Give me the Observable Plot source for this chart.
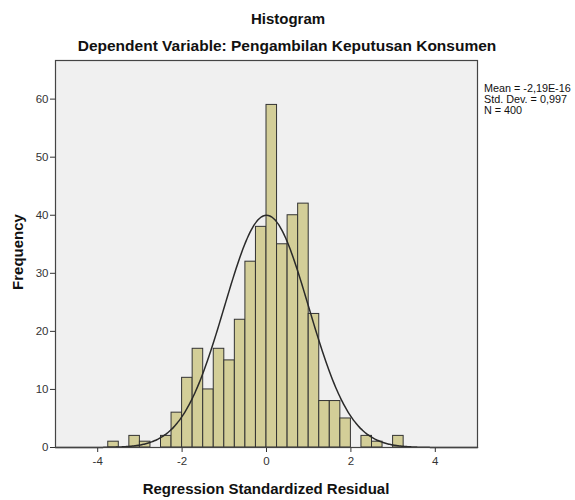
<!DOCTYPE html>
<html>
<head>
<meta charset="utf-8">
<script src="https://cdn.jsdelivr.net/npm/d3@7"></script>
<script src="https://cdn.jsdelivr.net/npm/@observablehq/plot@0.6"></script>
<style>
  html, body { margin: 0; padding: 0; background: #ffffff; }
  #chart svg { display: block; }
</style>
</head>
<body>
<div id="chart"></div>
<script>
// Bin left edges (bin width 0.25) and frequencies
const binStart = [-3.75, -3.5, -3.25, -3.0, -2.75, -2.5, -2.25, -2.0, -1.75, -1.5, -1.25, -1.0, -0.75, -0.5, -0.25, 0.0, 0.25, 0.5, 0.75, 1.0, 1.25, 1.5, 1.75, 2.0, 2.25, 2.5, 2.75, 3.0];
const counts   = [1, 0, 2, 1, 0, 2, 6, 12, 17, 10, 17, 15, 22, 32, 38, 59, 35, 40, 42, 23, 8, 8, 5, 0, 2, 1, 0, 2];
const binWidth = 0.25;

// Summary statistics shown in the legend
const statMean = -2.19e-16;
const statSd = 0.997;
const statN = 400;
const legendLines = ["Mean = -2,19E-16", "Std. Dev. = 0,997", "N = 400"];

const xTicks = [-4, -2, 0, 2, 4];
const yTicks = [0, 10, 20, 30, 40, 50, 60];

const bars = binStart.map((s, i) => ({x1: s, x2: s + binWidth, y: counts[i]})).filter(d => d.y > 0);

// Fitted normal curve from the reported mean, std. dev. and N
const curve = d3.range(-5, 5.0001, 0.04).map(x => ({
  x,
  y: statN * binWidth / (statSd * Math.sqrt(2 * Math.PI)) * Math.exp(-((x - statMean) ** 2) / (2 * statSd * statSd))
}));

const W = 575, H = 500;
const font = "'Liberation Sans', Arial, sans-serif";
const chart = Plot.plot({
  width: W,
  height: H,
  marginLeft: 55,
  marginRight: 98,
  marginTop: 60,
  marginBottom: 53,
  style: {fontFamily: font, fontSize: "11.5px", background: "#ffffff", color: "#333"},
  x: {domain: [-5, 5], ticks: xTicks, tickSize: 5, label: null, tickPadding: 4, tickFormat: d => String(d)},
  y: {domain: [0, 66.65], ticks: yTicks, tickSize: 5, label: null, tickPadding: 2, tickFormat: d => String(d)},
  marks: [
    Plot.frame({fill: "#f0f0f0", stroke: "none"}),
    Plot.rectY(bars, {x1: "x1", x2: "x2", y: "y", fill: "#d3ce98", stroke: "#333333", strokeWidth: 1, inset: 0}),
    Plot.line(curve, {x: "x", y: "y", stroke: "#2a2a2a", strokeWidth: 1.5, curve: "basis"}),
    Plot.frame({stroke: "#444444", strokeWidth: 1.2})
  ]
});
document.getElementById("chart").appendChild(chart);

const svg = d3.select(chart);
svg.append("text").attr("x", 288).attr("y", 24).attr("text-anchor", "middle")
  .attr("font-family", font).attr("font-size", 15).attr("font-weight", "bold").attr("fill", "#111")
  .text("Histogram");
svg.append("text").attr("x", 287).attr("y", 51).attr("text-anchor", "middle")
  .attr("font-family", font).attr("font-size", 15.5).attr("font-weight", "bold").attr("fill", "#111")
  .text("Dependent Variable: Pengambilan Keputusan Konsumen");
svg.append("text").attr("x", 266).attr("y", 494).attr("text-anchor", "middle")
  .attr("font-family", font).attr("font-size", 15).attr("font-weight", "bold").attr("fill", "#111")
  .text("Regression Standardized Residual");
svg.append("text").attr("transform", "translate(23,252) rotate(-90)").attr("text-anchor", "middle")
  .attr("font-family", font).attr("font-size", 15).attr("font-weight", "bold").attr("fill", "#111")
  .text("Frequency");
legendLines.forEach((t, i) => {
  svg.append("text").attr("x", 484).attr("y", 92 + i * 11).attr("text-anchor", "start")
    .attr("font-family", font).attr("font-size", 10.8).attr("fill", "#111").text(t);
});
</script>
</body>
</html>
